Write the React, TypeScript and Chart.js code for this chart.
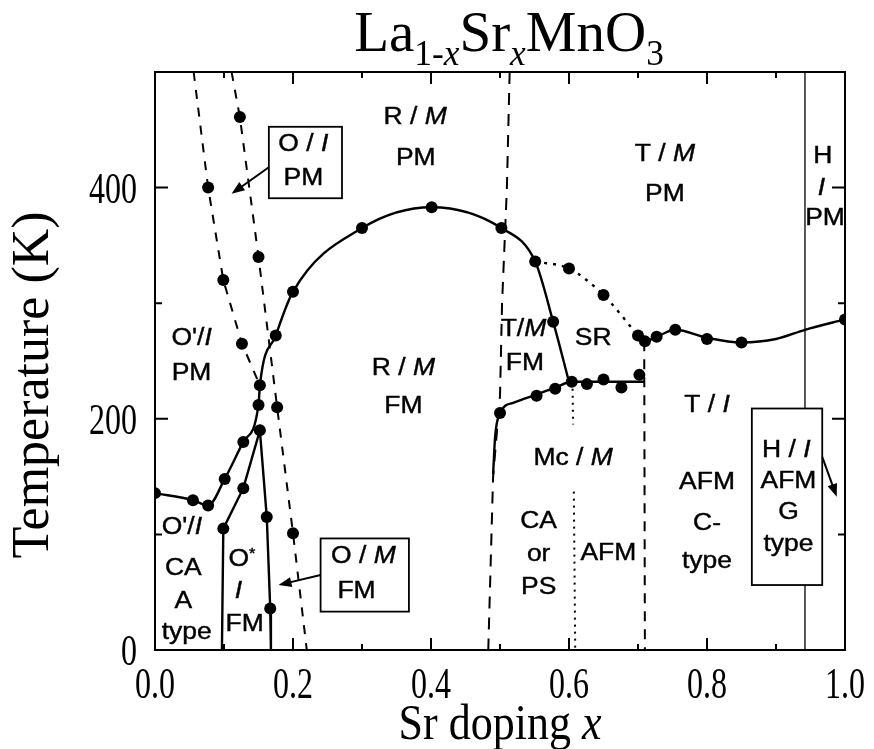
import React, { useEffect, useRef } from "react";
import { Chart, registerables } from "chart.js";

Chart.register(...registerables);

// ---------------- data (x = Sr doping, y = temperature K) ----------------
const tcCurve: number[][] = [
  [0, 135.7], [0.055, 129.6], [0.077, 125], [0.101, 148], [0.128, 180], [0.15, 212],
  [0.152, 229], [0.175, 272], [0.2, 310], [0.3, 365], [0.401, 383], [0.502, 365],
  [0.551, 336], [0.577, 284], [0.6, 232],
];
const oStarCurve: number[][] = [
  [0.097, 0], [0.099, 105], [0.128, 140], [0.152, 190], [0.162, 115], [0.167, 36], [0.168, 0],
];
const jtDashLeft: number[][] = [[0.056, 500], [0.077, 400], [0.099, 320], [0.126, 265], [0.152, 229]];
const jtDashRight: number[][] = [[0.111, 500], [0.123, 461], [0.15, 340], [0.177, 210], [0.2, 101], [0.22, 0]];
const rtDash: number[][] = [[0.514, 500], [0.51, 400], [0.503, 300], [0.5, 220], [0.49, 150], [0.483, 0]];
const mcCurve: number[][] = [
  [0.49, 152], [0.493, 185], [0.5, 205], [0.52, 214], [0.553, 221], [0.58, 227], [0.604, 232], [0.71, 232],
];
const srDotted: number[][] = [[0.551, 336], [0.6, 330], [0.65, 307], [0.7, 272]];
const tnCurve: number[][] = [
  [0.702, 272], [0.71, 267], [0.727, 271], [0.754, 277], [0.8, 270], [0.85, 266], [0.9, 269], [0.942, 277], [1.0, 286],
];
const cDash: number[][] = [[0.709, 267], [0.71, 0]];
const mcDotUpper: number[][] = [[0.605, 232], [0.606, 195]];
const mcDotLower: number[][] = [[0.607, 137], [0.609, 0]];
const hexLine: number[][] = [[0.942, 0], [0.942, 500]];

const measuredPoints: number[][] = [
  [0, 135.7], [0.055, 129.6], [0.077, 125], [0.101, 148], [0.128, 180], [0.15, 212], [0.152, 229],
  [0.175, 272], [0.2, 310], [0.3, 365], [0.401, 383], [0.502, 365], [0.551, 336], [0.577, 284],
  [0.099, 105], [0.128, 140], [0.152, 190], [0.162, 115], [0.167, 36],
  [0.077, 400], [0.099, 320], [0.126, 265],
  [0.123, 461], [0.15, 340], [0.177, 210], [0.2, 101],
  [0.5, 205], [0.553, 220], [0.58, 226], [0.604, 232], [0.626, 230], [0.65, 234], [0.676, 227], [0.702, 238],
  [0.6, 330], [0.65, 307], [0.7, 272],
  [0.71, 267], [0.727, 271], [0.754, 277], [0.8, 269], [0.85, 266], [1.0, 286],
];

const xTickLabels = ["0.0", "0.2", "0.4", "0.6", "0.8", "1.0"];
const yTickLabels = ["0", "200", "400"];

// region labels: text ({} = italic, ^ = superscript next char), x, y
const regionLabels: [string, number, number][] = [
  ["R / {M}", 0.377, 462], ["PM", 0.378, 426],
  ["T / {M}", 0.739, 430], ["PM", 0.739, 395],
  ["H", 0.968, 428], ["{I}", 0.966, 400], ["PM", 0.971, 374],
  ["O'/{I}", 0.053, 271], ["PM", 0.053, 240],
  ["O'/{I}", 0.039, 107], ["CA", 0.041, 72], ["A", 0.041, 43], ["type", 0.046, 16],
  ["O^*", 0.126, 79], ["{I}", 0.121, 52], ["FM", 0.13, 23],
  ["R / {M}", 0.36, 245], ["FM", 0.36, 212],
  ["T/{M}", 0.534, 278], ["FM", 0.536, 249],
  ["SR", 0.635, 271],
  ["T / {I}", 0.8, 213],
  ["Mc / {M}", 0.606, 167],
  ["CA", 0.556, 112], ["or", 0.556, 84], ["PS", 0.556, 55],
  ["AFM", 0.657, 85],
  ["AFM", 0.8, 146], ["C-", 0.8, 111], ["type", 0.8, 78],
  ["H / {I}", 0.915, 174], ["AFM", 0.918, 147], ["G", 0.918, 120], ["type", 0.918, 92],
  ["O / {I}", 0.215, 438], ["PM", 0.215, 409],
  ["O / {M}", 0.302, 82], ["FM", 0.292, 52],
];
const labelBoxes: number[][] = [[0.165, 452.6, 0.271, 390.8], [0.24, 96.5, 0.368, 33.2], [0.865, 208.9, 0.967, 56.2]];
const labelArrows: number[][] = [[0.165, 417.6, 0.111, 394.7], [0.24, 64.8, 0.179, 56.2], [0.967, 167, 0.988, 132.5]];

// ---------------- helpers ----------------
const SERIF = '"Liberation Serif", "Times New Roman", serif';
const SANS = '"Liberation Sans", Arial, sans-serif';

type Part = { t: string; it?: boolean; sub?: boolean; sup?: boolean };

function parseMarkup(s: string): Part[] {
  const parts: Part[] = [];
  let it = false;
  let buf = "";
  const flush = () => { if (buf) { parts.push({ t: buf, it }); buf = ""; } };
  for (let i = 0; i < s.length; i++) {
    const c = s[i];
    if (c === "{") { flush(); it = true; }
    else if (c === "}") { flush(); it = false; }
    else if (c === "^") { flush(); parts.push({ t: s[i + 1], sup: true, it }); i++; }
    else buf += c;
  }
  flush();
  return parts;
}

function drawRich(
  ctx: CanvasRenderingContext2D, parts: Part[], x: number, y: number, size: number, family: string,
  align: "center" | "right" | "left" = "center", sx = 1, sy = 1, rotate = 0, stroke = 0,
) {
  const fontOf = (p: Part) => `${p.it ? "italic " : ""}${p.sub || p.sup ? size * 0.62 : size}px ${family}`;
  let total = 0;
  const widths = parts.map((p) => { ctx.font = fontOf(p); const w = ctx.measureText(p.t).width; total += w; return w; });
  ctx.save();
  ctx.translate(x, y);
  if (rotate) ctx.rotate(rotate);
  ctx.scale(sx, sy);
  let cx = align === "center" ? -total / 2 : align === "right" ? -total : 0;
  const base = size * 0.34;
  ctx.textBaseline = "alphabetic";
  ctx.textAlign = "left";
  ctx.fillStyle = "#000";
  ctx.strokeStyle = "#000";
  ctx.lineWidth = stroke;
  parts.forEach((p, i) => {
    ctx.font = fontOf(p);
    const dy = p.sub ? size * 0.24 : p.sup ? -size * 0.38 : 0;
    ctx.fillText(p.t, cx, base + dy);
    if (stroke > 0) ctx.strokeText(p.t, cx, base + dy);
    cx += widths[i];
  });
  ctx.restore();
}

const toXY = (arr: number[][]) => arr.map(([x, y]) => ({ x, y }));

const decorPlugin = {
  id: "decor",
  afterDatasetsDraw(chart: any) {
    const ctx: CanvasRenderingContext2D = chart.ctx;
    const xs = chart.scales.x;
    const ys = chart.scales.y;
    const X = (v: number) => xs.getPixelForValue(v);
    const Y = (v: number) => ys.getPixelForValue(v);
    const ca = chart.chartArea;

    // boxes (white filled)
    ctx.save();
    ctx.lineWidth = 1.8;
    ctx.strokeStyle = "#000";
    labelBoxes.forEach(([x1, y1, x2, y2]) => {
      const l = X(x1), t = Y(y1), r = X(x2), b = Y(y2);
      ctx.fillStyle = "#fff";
      ctx.fillRect(l, t, r - l, b - t);
      ctx.strokeRect(l, t, r - l, b - t);
    });
    // arrows
    labelArrows.forEach(([x1, y1, x2, y2]) => {
      const ax = X(x1), ay = Y(y1), bx = X(x2), by = Y(y2);
      const ang = Math.atan2(by - ay, bx - ax);
      const hl = 13, hw = 5;
      ctx.beginPath();
      ctx.moveTo(ax, ay);
      ctx.lineTo(bx - Math.cos(ang) * hl * 0.8, by - Math.sin(ang) * hl * 0.8);
      ctx.lineWidth = 2;
      ctx.stroke();
      ctx.beginPath();
      ctx.moveTo(bx, by);
      ctx.lineTo(bx - Math.cos(ang) * hl - Math.sin(ang) * hw, by - Math.sin(ang) * hl + Math.cos(ang) * hw);
      ctx.lineTo(bx - Math.cos(ang) * hl + Math.sin(ang) * hw, by - Math.sin(ang) * hl - Math.cos(ang) * hw);
      ctx.closePath();
      ctx.fillStyle = "#000";
      ctx.fill();
    });
    ctx.restore();

    // region labels
    regionLabels.forEach(([txt, x, y]) => {
      drawRich(ctx, parseMarkup(txt), X(x), Y(y), 23, SANS, "center", 1.15, 1, 0, 0.4);
    });

    // frame
    ctx.save();
    ctx.strokeStyle = "#000";
    ctx.lineWidth = 2;
    ctx.strokeRect(ca.left, ca.top, ca.right - ca.left, ca.bottom - ca.top);
    ctx.lineWidth = 2;
    // x ticks (top & bottom, inward)
    xs.ticks.forEach((tk: any) => {
      const v = tk.value;
      const major = Math.round(v * 10) % 2 === 0;
      const len = major ? 12 : 6;
      const px = X(v);
      ctx.beginPath();
      ctx.moveTo(px, ca.bottom); ctx.lineTo(px, ca.bottom - len);
      ctx.moveTo(px, ca.top); ctx.lineTo(px, ca.top + len);
      ctx.stroke();
    });
    ys.ticks.forEach((tk: any) => {
      const v = tk.value;
      const major = Math.round(v) % 200 === 0;
      const len = major ? 13 : 7;
      const py = Y(v);
      ctx.beginPath();
      ctx.moveTo(ca.left, py); ctx.lineTo(ca.left + len, py);
      ctx.moveTo(ca.right, py); ctx.lineTo(ca.right - len, py);
      ctx.stroke();
    });
    ctx.restore();

    // tick labels
    xTickLabels.forEach((lab) => {
      drawRich(ctx, [{ t: lab }], X(parseFloat(lab)), ca.bottom + 33, 32, SERIF, "center", 1, 1.38);
    });
    yTickLabels.forEach((lab) => {
      drawRich(ctx, [{ t: lab }], ca.left - 18, Y(parseFloat(lab)), 32, SERIF, "right", 1, 1.38);
    });

    // axis titles
    drawRich(ctx, [{ t: "Sr doping " }, { t: "x", it: true }], (ca.left + ca.right) / 2, 722, 44, SERIF, "center", 1, 1.15);
    drawRich(ctx, [{ t: "Temperature (K)" }], 30, 385, 52, SERIF, "center", 1, 1, -Math.PI / 2);
    // title
    drawRich(ctx, [
      { t: "La" }, { t: "1-", sub: true }, { t: "x", sub: true, it: true }, { t: "Sr" },
      { t: "x", sub: true, it: true }, { t: "MnO" }, { t: "3", sub: true },
    ], 509, 32, 57, SERIF, "center", 1, 1);
  },
};

function lineDs(data: number[][], opts: any) {
  return {
    type: "line",
    data: toXY(data),
    borderColor: "#000",
    backgroundColor: "#000",
    borderWidth: 2.4,
    pointRadius: 0,
    fill: false,
    tension: 0,
    ...opts,
  };
}

export default function App() {
  const ref = useRef<HTMLCanvasElement | null>(null);
  useEffect(() => {
    if (!ref.current) return;
    const dash = [9, 9];
    const chart = new Chart(ref.current, {
      type: "line",
      data: {
        datasets: [
          lineDs(tcCurve, { cubicInterpolationMode: "monotone" }),
          lineDs(oStarCurve, {}),
          lineDs(jtDashLeft, { borderDash: dash, borderWidth: 2 }),
          lineDs(jtDashRight, { borderDash: dash, borderWidth: 2 }),
          lineDs(rtDash, { borderDash: [12, 9], borderWidth: 2 }),
          lineDs(mcCurve, { cubicInterpolationMode: "monotone" }),
          lineDs(srDotted, { borderDash: [3, 6], borderWidth: 2.4, cubicInterpolationMode: "monotone" }),
          lineDs(tnCurve, { cubicInterpolationMode: "monotone" }),
          lineDs(cDash, { borderDash: [10, 8], borderWidth: 2 }),
          lineDs(mcDotUpper, { borderDash: [2, 5], borderWidth: 2 }),
          lineDs(mcDotLower, { borderDash: [2, 5], borderWidth: 2 }),
          lineDs(hexLine, { borderWidth: 1.3 }),
          {
            type: "scatter",
            data: toXY(measuredPoints),
            showLine: false,
            pointRadius: 6,
            pointBackgroundColor: "#000",
            pointBorderColor: "#000",
            pointBorderWidth: 0,
          },
        ] as any,
      },
      options: {
        animation: false,
        responsive: false,
        maintainAspectRatio: false,
        events: [],
        layout: { padding: { top: 72, right: 29, left: 0, bottom: 0 } },
        plugins: { legend: { display: false }, tooltip: { enabled: false }, title: { display: false } },
        scales: {
          x: {
            type: "linear", min: 0, max: 1,
            ticks: { display: false, stepSize: 0.1 },
            grid: { display: false }, border: { display: false },
            afterFit: (s: any) => { s.height = 99; },
          },
          y: {
            type: "linear", min: 0, max: 500,
            ticks: { display: false, stepSize: 100 },
            grid: { display: false }, border: { display: false },
            afterFit: (s: any) => { s.width = 155; },
          },
        },
      } as any,
      plugins: [decorPlugin],
    });
    return () => chart.destroy();
  }, []);
  return (
    <div style={{ position: "absolute", left: 0, top: 0, width: 874, height: 749, background: "#fff" }}>
      <canvas ref={ref} width={874} height={749} style={{ display: "block", width: 874, height: 749 }} />
    </div>
  );
}
